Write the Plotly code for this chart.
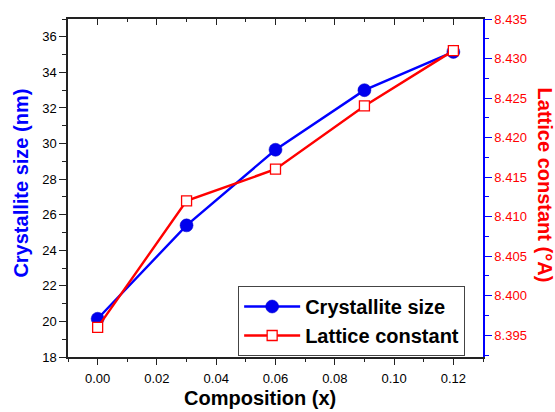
import plotly.graph_objects as go

composition = [0.00, 0.03, 0.06, 0.09, 0.12]
crystallite_size = [20.15, 25.4, 29.65, 33.0, 35.15]
lattice_constant = [8.396, 8.412, 8.416, 8.424, 8.431]

x_ticks = [0, 0.02, 0.04, 0.06, 0.08, 0.10, 0.12]
x_ticklabels = ["0.00", "0.02", "0.04", "0.06", "0.08", "0.10", "0.12"]
y_ticks = [18, 20, 22, 24, 26, 28, 30, 32, 34, 36]
y2_ticks = [8.395, 8.400, 8.405, 8.410, 8.415, 8.420, 8.425, 8.430, 8.435]
y2_ticklabels = ["8.395", "8.400", "8.405", "8.410", "8.415", "8.420", "8.425", "8.430", "8.435"]

FONT = "Liberation Sans, Arial, sans-serif"

fig = go.Figure()
fig.add_trace(go.Scatter(
    x=composition, y=crystallite_size, name="Crystallite size",
    mode="lines+markers",
    line=dict(color="#0000ff", width=2.4),
    marker=dict(symbol="circle", size=13, color="#0000ee",
                line=dict(color="#0000cc", width=0.5)),
    xaxis="x", yaxis="y",
))
fig.add_trace(go.Scatter(
    x=composition, y=lattice_constant, name="Lattice constant",
    mode="lines+markers",
    line=dict(color="#ff0000", width=2.4),
    marker=dict(symbol="square", size=10, color="white",
                line=dict(color="#ff0000", width=1.3)),
    xaxis="x", yaxis="y2",
))
# invisible trace for top mirror axis
fig.add_trace(go.Scatter(x=[composition[0]], y=[crystallite_size[0]], xaxis="x2", yaxis="y",
                         mode="markers", marker=dict(opacity=0), showlegend=False, hoverinfo="skip"))

fig.update_layout(
    width=555, height=412,
    margin=dict(l=68, r=72, t=16, b=55),
    plot_bgcolor="white", paper_bgcolor="white",
    font=dict(family=FONT, size=13, color="black"),
    showlegend=True,
    legend=dict(
        x=0.41, y=0.21, xanchor="left", yanchor="top",
        bordercolor="#444444", borderwidth=1, bgcolor="white",
        font=dict(family=FONT, size=20, color="black", weight="bold"),
        tracegroupgap=0, itemwidth=56,
    ),
    xaxis=dict(
        range=[-0.01, 0.13], tickvals=x_ticks, ticktext=x_ticklabels,
        ticks="outside", ticklen=6, tickwidth=1.2, tickcolor="#222222",
        showline=True, linecolor="#222222", linewidth=1.5,
        showgrid=False, zeroline=False, ticklabelstandoff=3,
        minor=dict(dtick=0.01, tick0=-0.01, ticks="outside", ticklen=3, tickcolor="#222222", tickwidth=1.2),
        tickfont=dict(family=FONT, size=13, color="black"),
    ),
    xaxis2=dict(
        overlaying="x", side="top", matches="x", range=[-0.01, 0.13],
        tickvals=x_ticks, showticklabels=False,
        ticks="inside", ticklen=6, tickwidth=1.2, tickcolor="#222222",
        showline=True, linecolor="#222222", linewidth=1.5,
        showgrid=False, zeroline=False,
        minor=dict(dtick=0.01, tick0=-0.01, ticks="inside", ticklen=3, tickcolor="#222222", tickwidth=1.2),
    ),
    yaxis=dict(
        range=[18, 37], tickvals=y_ticks,
        ticks="outside", ticklen=7, tickwidth=1.2, tickcolor="#222222",
        showline=True, linecolor="#222222", linewidth=1.5,
        showgrid=False, zeroline=False,
        minor=dict(dtick=1, tick0=18, ticks="outside", ticklen=4, tickcolor="#222222", tickwidth=1.2),
        tickfont=dict(family=FONT, size=13, color="black"),
    ),
    yaxis2=dict(
        overlaying="y", side="right", range=[8.39225, 8.435],
        tickvals=y2_ticks, ticktext=y2_ticklabels,
        ticks="outside", ticklen=7, tickwidth=1.2, tickcolor="#0000ff",
        showline=True, linecolor="#0000ff", linewidth=1.5,
        showgrid=False, zeroline=False,
        minor=dict(dtick=0.0025, tick0=8.395, ticks="outside", ticklen=4, tickcolor="#0000ff", tickwidth=1.2),
        tickfont=dict(family=FONT, size=13, color="#ff0000"),
    ),
    annotations=[
        dict(text="Composition (x)", xref="paper", yref="paper",
             x=0.463, y=0, xanchor="center", yanchor="middle", yshift=-41,
             showarrow=False,
             font=dict(family=FONT, size=20, color="black", weight="bold")),
        dict(text="Crystallite size (nm)", xref="paper", yref="paper",
             x=0, y=0.513, xanchor="center", yanchor="middle", xshift=-47,
             textangle=-90, showarrow=False,
             font=dict(family=FONT, size=20, color="#0000ff", weight="bold")),
        dict(text="Lattice constant (°A)", xref="paper", yref="paper",
             x=1.0, y=0.51, xanchor="center", yanchor="middle", xshift=62,
             textangle=90, showarrow=False,
             font=dict(family=FONT, size=20, color="#ff0000", weight="bold")),
    ],
)

fig.write_html("out.html")
